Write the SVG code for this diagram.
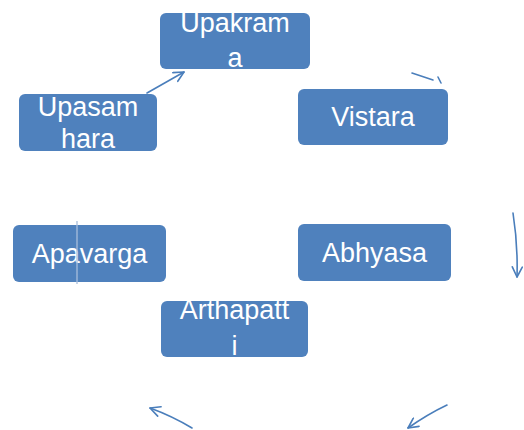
<svg xmlns="http://www.w3.org/2000/svg" width="524" height="430" viewBox="0 0 524 430">
<style>
.box{fill:#4f81bd;}
.lbl{fill:#ffffff;font-family:"Liberation Sans",Arial,sans-serif;font-size:27px;text-anchor:middle;}
.conn{fill:none;stroke:#4a7ebb;stroke-width:1.6;stroke-linecap:round;}
</style>
<defs>
<marker id="ah" viewBox="0 0 12 12" refX="11" refY="6" markerWidth="12" markerHeight="12" markerUnits="userSpaceOnUse" orient="auto">
<path d="M1,1 L11,6 L1,11" fill="none" stroke="#4a7ebb" stroke-width="1.6" stroke-linecap="round" stroke-linejoin="round"/>
</marker>
</defs>
<rect width="524" height="430" fill="#ffffff"/>
<g id="n-upakrama">
<rect class="box" x="160" y="13" width="150" height="56" rx="6"/>
<text class="lbl" x="235" y="32">Upakram</text>
<text class="lbl" x="235" y="67">a</text>
</g>
<g id="n-vistara">
<rect class="box" x="298" y="89" width="150" height="56" rx="6"/>
<text class="lbl" x="373" y="126">Vistara</text>
</g>
<g id="n-upasamhara">
<rect class="box" x="19" y="94" width="138" height="57" rx="6"/>
<text class="lbl" x="88" y="116">Upasam</text>
<text class="lbl" x="88" y="148">hara</text>
</g>
<g id="n-apavarga">
<rect class="box" x="13" y="225" width="153" height="57" rx="6"/>
<text class="lbl" x="89.5" y="263">Apavarga</text>
</g>
<g id="n-abhyasa">
<rect class="box" x="298" y="224" width="153" height="57" rx="6"/>
<text class="lbl" x="374.5" y="262">Abhyasa</text>
</g>
<g id="n-arthapatti">
<rect class="box" x="161" y="301" width="147" height="56" rx="6"/>
<text class="lbl" x="234.5" y="319">Arthapatt</text>
<text class="lbl" x="234.5" y="355">i</text>
</g>
<g id="connectors">
<path class="conn" d="M147,93 L184,72" marker-end="url(#ah)"/>
<path class="conn" d="M412,73 L433,80"/>
<path class="conn" d="M438,77 L441,83"/>
<path class="conn" d="M513,213 Q518,245 517,277" marker-end="url(#ah)"/>
<path class="conn" d="M447,405 Q428,414 408,428" marker-end="url(#ah)"/>
<path class="conn" d="M192,428 Q172,416 150,408" marker-end="url(#ah)"/>
<path d="M77,221 L77,284" fill="none" stroke="#a8bedc" stroke-width="1.3"/>
</g>
</svg>
